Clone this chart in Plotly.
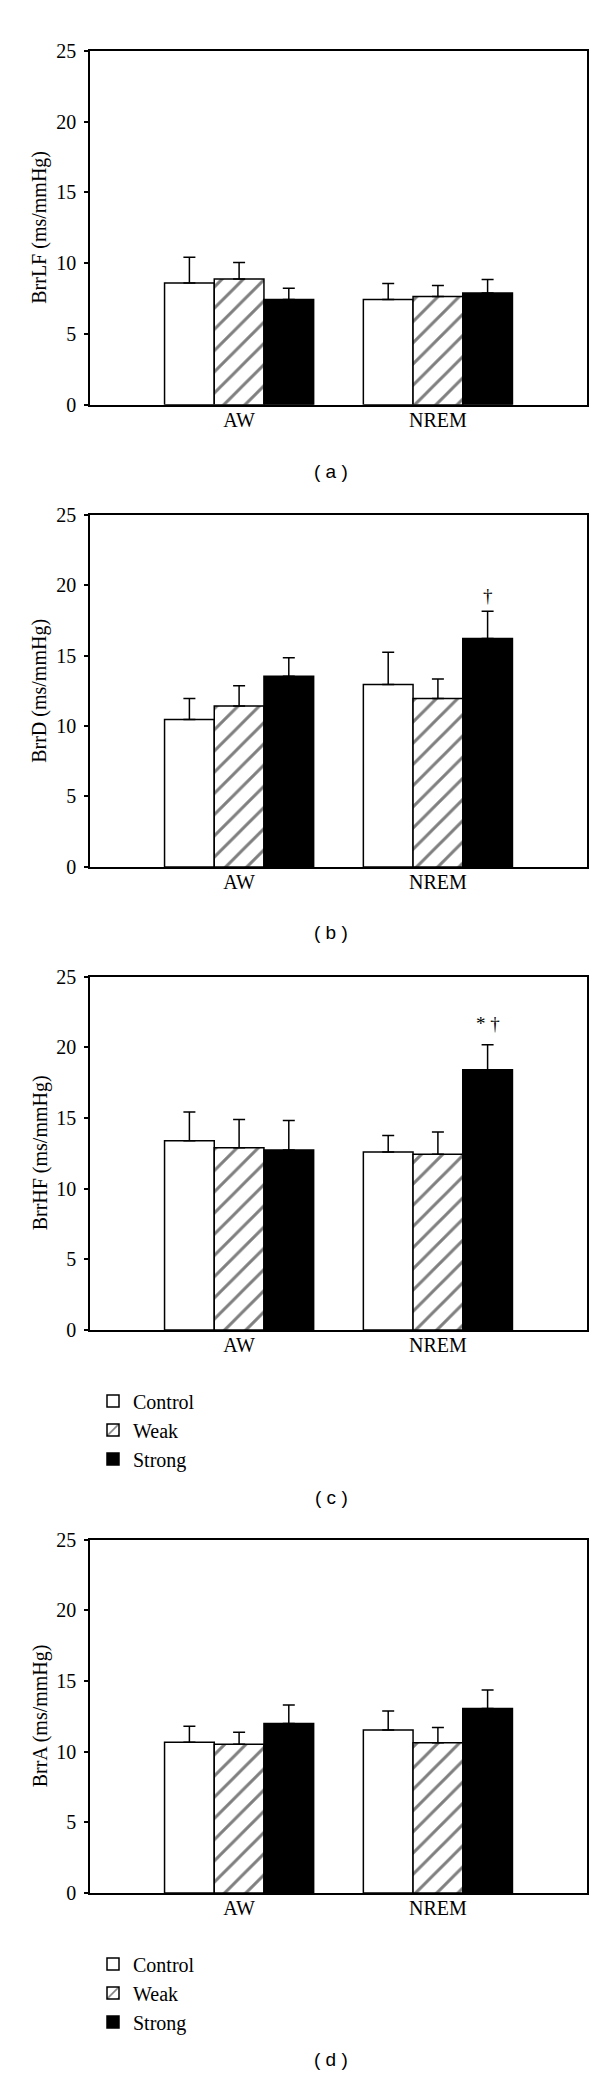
import plotly.graph_objects as go

# ---------------- data ----------------
states = ["AW", "NREM"]
groups = ["Control", "Weak", "Strong"]

# (a) BrrLF
lf_control = [8.60, 7.44]
lf_weak = [8.88, 7.65]
lf_strong = [7.44, 7.90]
lf_control_err = [1.82, 1.12]
lf_weak_err = [1.17, 0.77]
lf_strong_err = [0.79, 0.94]

# (b) BrrD
d_control = [10.47, 12.94]
d_weak = [11.43, 11.96]
d_strong = [13.53, 16.21]
d_control_err = [1.49, 2.29]
d_weak_err = [1.42, 1.38]
d_strong_err = [1.31, 1.94]
d_strong_sig = ["", "\u2020"]

# (c) BrrHF
hf_control = [13.39, 12.59]
hf_weak = [12.89, 12.44]
hf_strong = [12.74, 18.42]
hf_control_err = [2.04, 1.18]
hf_weak_err = [2.01, 1.58]
hf_strong_err = [2.08, 1.76]
hf_strong_sig = ["", "* \u2020"]

# (d) BrrA
a_control = [10.66, 11.53]
a_weak = [10.53, 10.63]
a_strong = [12.00, 13.05]
a_control_err = [1.13, 1.34]
a_weak_err = [0.85, 1.08]
a_strong_err = [1.31, 1.32]

y_titles = ["BrrLF (ms/mmHg)", "BrrD (ms/mmHg)", "BrrHF (ms/mmHg)", "BrrA (ms/mmHg)"]
panel_labels = ["( a )", "( b )", "( c )", "( d )"]
y_ticks = [0, 5, 10, 15, 20, 25]

# ---------------- layout geometry (pixels) ----------------
W, H = 600, 2077
plot_left, plot_right = 82, 579
panel_px = [(32, 390), (501, 857), (968, 1325), (1537, 1894)]  # top, bottom
label_px = [457, 923, 1494, 2062]
legend_top_px = {2: 1377, 3: 1946}

SERIF = "Liberation Serif"
SANS = "Liberation Sans"

def ydom(top, bottom):
    return [1 - bottom / H, 1 - top / H]

panels = [
    (lf_control, lf_weak, lf_strong, lf_control_err, lf_weak_err, lf_strong_err, None),
    (d_control, d_weak, d_strong, d_control_err, d_weak_err, d_strong_err, d_strong_sig),
    (hf_control, hf_weak, hf_strong, hf_control_err, hf_weak_err, hf_strong_err, hf_strong_sig),
    (a_control, a_weak, a_strong, a_control_err, a_weak_err, a_strong_err, None),
]
sig_yshift = [0, 3, 9, 0]

styles = {
    "Control": dict(color="white", pattern=None),
    "Weak": dict(color="white", pattern=dict(shape="/", fgcolor="black", bgcolor="white", size=15, solidity=0.2)),
    "Strong": dict(color="black", pattern=None),
}

fig = go.Figure()
annotations = []
layout = dict(
    width=W, height=H, autosize=False,
    margin=dict(l=0, r=0, t=0, b=0),
    paper_bgcolor="white", plot_bgcolor="white",
    barmode="group", bargap=0.25, bargroupgap=0,
    font=dict(family=SERIF, size=20, color="black"),
)

for i, (c, w, s, ce, we, se, sig) in enumerate(panels):
    n = "" if i == 0 else str(i + 1)
    xa, ya = "x" + n, "y" + n
    legend_name = None
    if i == 2:
        legend_name = "legend"
    elif i == 3:
        legend_name = "legend2"
    for gname, vals, errs in zip(groups, [c, w, s], [ce, we, se]):
        st = styles[gname]
        marker = dict(color=st["color"], line=dict(color="black", width=1.5))
        if st["pattern"]:
            marker["pattern"] = st["pattern"]
        tr = dict(
            x=states, y=vals, name=gname, xaxis=xa, yaxis=ya,
            marker=marker,
            error_y=dict(type="data", array=errs, symmetric=False,
                         color="black", thickness=1.5, width=6),
            showlegend=legend_name is not None,
        )
        if legend_name:
            tr["legend"] = legend_name
        fig.add_trace(go.Bar(**tr))

    top, bottom = panel_px[i]
    layout["xaxis" + n] = dict(
        domain=[plot_left / W, plot_right / W], anchor=ya, type="category",
        range=[-0.75, 1.75], showline=True, mirror=True, linecolor="black",
        linewidth=1.5, ticks="", showgrid=False, zeroline=False,
        ticklabelstandoff=-4,
        tickfont=dict(family=SERIF, size=20),
    )
    layout["yaxis" + n] = dict(
        domain=ydom(top, bottom), anchor=xa, range=[0, 25],
        tickvals=y_ticks, ticks="outside", ticklen=4, tickwidth=1.5,
        tickcolor="black", showline=True, mirror=True, linecolor="black",
        linewidth=1.5, showgrid=False, zeroline=False,
        ticklabelstandoff=4,
        tickfont=dict(family=SERIF, size=20),
    )
    # y-axis title
    annotations.append(dict(
        text=y_titles[i], textangle=-90, xref="paper", yref="paper",
        x=32 / W, y=1 - (top + bottom) / 2 / H, xanchor="center", yanchor="middle",
        showarrow=False, font=dict(family=SERIF, size=20),
    ))
    # panel label
    annotations.append(dict(
        text=panel_labels[i], xref="paper", yref="paper",
        x=323 / W, y=1 - label_px[i] / H, xanchor="center", yanchor="middle",
        showarrow=False, font=dict(family=SANS, size=19),
    ))
    # significance marks over the Strong bars
    if sig:
        for k, txt in enumerate(sig):
            if txt:
                annotations.append(dict(
                    text=txt, xref=xa, yref=ya, x=k + 0.25, y=s[k] + se[k],
                    xanchor="center", yanchor="bottom", yshift=sig_yshift[i],
                    showarrow=False, font=dict(family=SERIF, size=19),
                ))

legend_common = dict(
    x=85 / W, xanchor="left", yanchor="top", bgcolor="rgba(0,0,0,0)",
    borderwidth=0, font=dict(family=SERIF, size=20), traceorder="normal",
    itemclick=False,
)
layout["legend"] = dict(y=1 - legend_top_px[2] / H, **legend_common)
layout["legend2"] = dict(y=1 - legend_top_px[3] / H, **legend_common)
layout["annotations"] = annotations

fig.update_layout(**layout)
fig.write_html("out.html")
